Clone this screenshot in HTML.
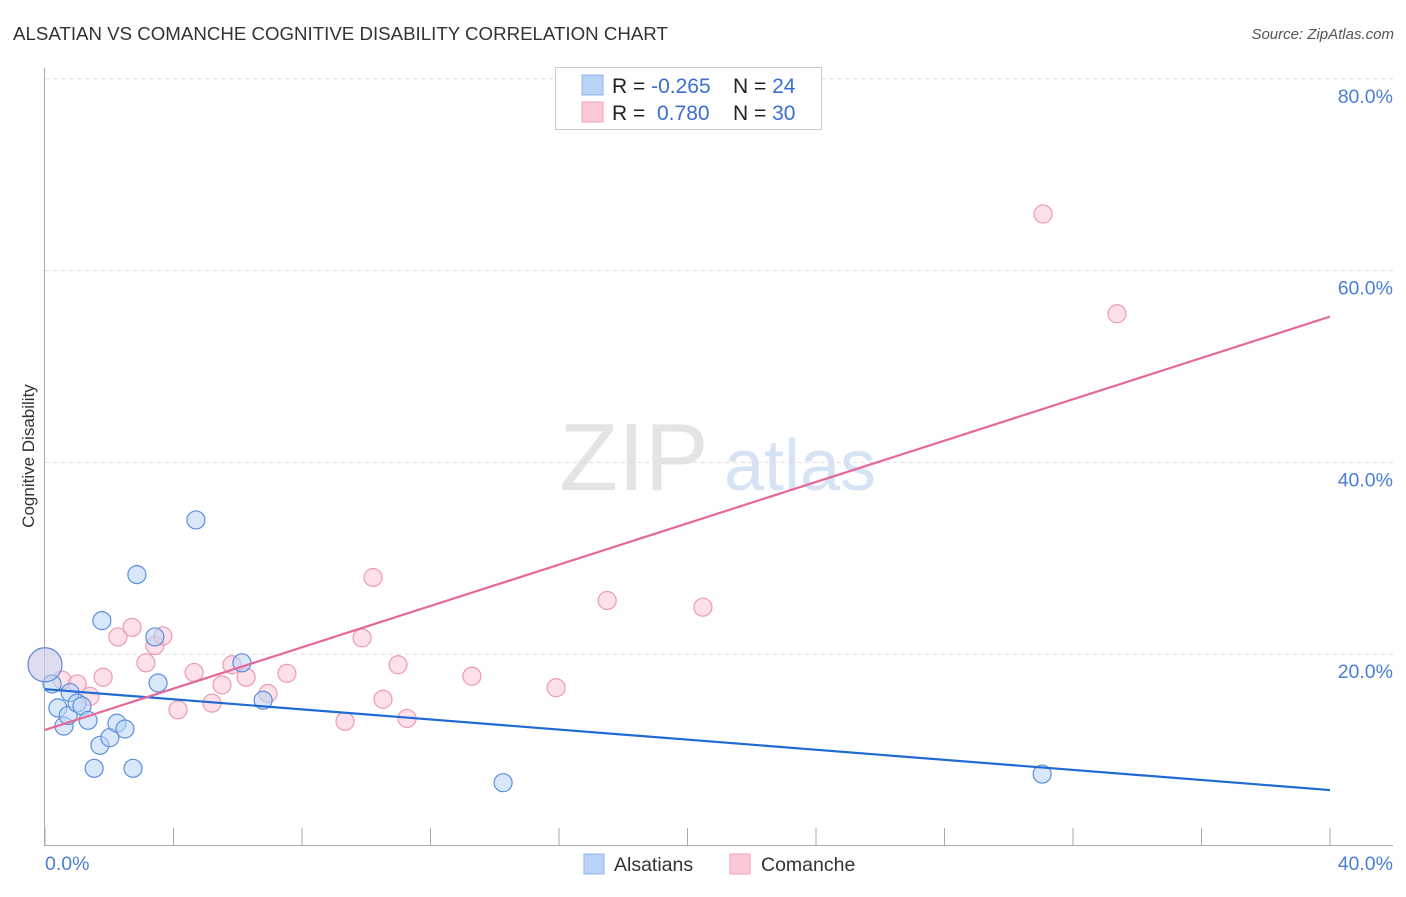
<!DOCTYPE html>
<html><head><meta charset="utf-8"><style>
body{margin:0;background:#fff;font-family:"Liberation Sans",sans-serif;}
svg text{font-family:"Liberation Sans",sans-serif;}
</style></head><body>
<svg id="chart" width="1406" height="892" xmlns="http://www.w3.org/2000/svg">
<text x="13" y="40" font-size="18.7" fill="#333">ALSATIAN VS COMANCHE COGNITIVE DISABILITY CORRELATION CHART</text>
<text x="1394" y="39" font-size="15" fill="#555" text-anchor="end" font-style="italic">Source: ZipAtlas.com</text>
<g>
<text x="634" y="490" font-size="96" fill="#e4e4e4" text-anchor="middle" font-family="Liberation Serif, serif">ZIP</text>
<text x="800" y="490" font-size="72" fill="#d6e3f5" text-anchor="middle">atlas</text>
</g>
<g id="grid"></g>
<g id="axes"></g>
<g id="marks"></g>
<text transform="translate(34,456) rotate(-90)" font-size="17" fill="#333" text-anchor="middle">Cognitive Disability</text>
<g>
<rect x="555.5" y="67.5" width="266" height="62" fill="#fff" stroke="#ccc"/>
<rect x="582" y="75" width="21" height="20" fill="#b8d3f7" stroke="#8fb4e8"/>
<rect x="582" y="102" width="21" height="20" fill="#fcc9d7" stroke="#f0a0b8"/>
<text x="612" y="93" font-size="21" fill="#222">R = <tspan fill="#3a6fd0">-0.265</tspan><tspan x="733">N = </tspan><tspan fill="#3a6fd0">24</tspan></text>
<text x="612" y="120" font-size="21" fill="#222">R = <tspan x="657" fill="#3a6fd0">0.780</tspan><tspan x="733">N = </tspan><tspan fill="#3a6fd0">30</tspan></text>
</g>
<g>
<rect x="584" y="854" width="20" height="20" fill="#b8d3f7" stroke="#8fb4e8"/>
<text x="614" y="871" font-size="19.5" fill="#333">Alsatians</text>
<rect x="730" y="854" width="20" height="20" fill="#fcc9d7" stroke="#f0a0b8"/>
<text x="761" y="871" font-size="19.5" fill="#333">Comanche</text>
</g>
</svg>
<script>
const blueX=[0.22,0.40,0.59,0.78,0.72,1.0,1.15,1.34,1.53,1.71,1.77,2.02,2.24,2.49,2.74,2.86,3.42,3.52,4.70,6.13,6.79,14.26,31.04,0];
const blueY=[16.9,14.4,12.5,16.0,13.6,14.9,14.6,13.1,8.1,10.5,23.5,11.3,12.8,12.2,8.1,28.3,21.8,17.0,34.0,19.1,15.2,6.6,7.5,18.9];
const pinkX=[0,0.53,1.0,1.40,1.81,2.27,2.71,3.14,3.42,3.67,4.14,4.64,5.20,5.51,5.82,6.26,6.94,7.53,9.34,9.87,10.21,10.52,10.99,11.27,13.29,15.91,17.5,20.48,31.07,33.37];
const pinkY=[18.9,17.3,16.9,15.6,17.6,21.8,22.8,19.1,20.9,21.9,14.2,18.1,14.9,16.8,18.9,17.6,15.9,18.0,13.0,21.7,28.0,15.3,18.9,13.3,17.7,16.5,25.6,24.9,65.9,55.5];
const blueTrend=[16.35,5.83];
const pinkTrend=[12.1,55.2];
const yTicks=[20,40,60,80];
const xTickLabels=["0.0%","40.0%"];
const NS="http://www.w3.org/2000/svg";
const X=v=>45+v*1285/40, Y=v=>846-v*9.59;
function mk(p,t,a){const e=document.createElementNS(NS,t);for(const k in a)e.setAttribute(k,a[k]);p.appendChild(e);return e;}
const grid=document.getElementById('grid'),axes=document.getElementById('axes'),marks=document.getElementById('marks');
yTicks.forEach(t=>{
 const l=mk(grid,'line',{x1:45,x2:1393,y1:Y(t),y2:Y(t),stroke:'#ddd','stroke-dasharray':'4,4'});
 
 
 const tx=mk(grid,'text',{x:1393,y:Y(t)+24,'font-size':19.5,fill:'#4a7fd6','text-anchor':'end'});
 tx.textContent=t.toFixed(1)+'%';
 
 
});
const ax=mk(axes,'line',{x1:44.5,x2:44.5,y1:68,y2:845,stroke:'#aaa'});


const bx=mk(axes,'line',{x1:44,x2:1393,y1:845.5,y2:845.5,stroke:'#aaa'});


for(let i=0;i<=10;i++){const t=mk(axes,'line',{x1:X(i*4),x2:X(i*4),y1:828,y2:845,stroke:'#aaa'});
 
 }
const xl0=mk(axes,'text',{x:45,y:870,'font-size':19.5,fill:'#4a7fd6'});xl0.textContent=xTickLabels[0];


const xl1=mk(axes,'text',{x:1393,y:870,'font-size':19.5,fill:'#4a7fd6','text-anchor':'end'});xl1.textContent=xTickLabels[1];


function pts(xs,ys,fill,stroke,name){xs.forEach((x,i)=>{const big=(x===0);
 const c=mk(marks,'circle',{cx:X(x),cy:Y(ys[i]),r:big?17:9,fill:fill,'fill-opacity':big?0.45:0.55,stroke:stroke,'stroke-width':1.2});
 
 });}
pts(pinkX,pinkY,'#fbc6d5','#ec9ab4','comanche');
pts(blueX,blueY,'#b9d3f5','#5b8fdc','alsatian');
const bl=mk(marks,'line',{x1:X(0),y1:Y(blueTrend[0]),x2:X(40),y2:Y(blueTrend[1]),stroke:'#1f6ad4','stroke-width':2.2});


const pl=mk(marks,'line',{x1:X(0),y1:Y(pinkTrend[0]),x2:X(40),y2:Y(pinkTrend[1]),stroke:'#e4689a','stroke-width':2.2});


</script>
</body></html>
